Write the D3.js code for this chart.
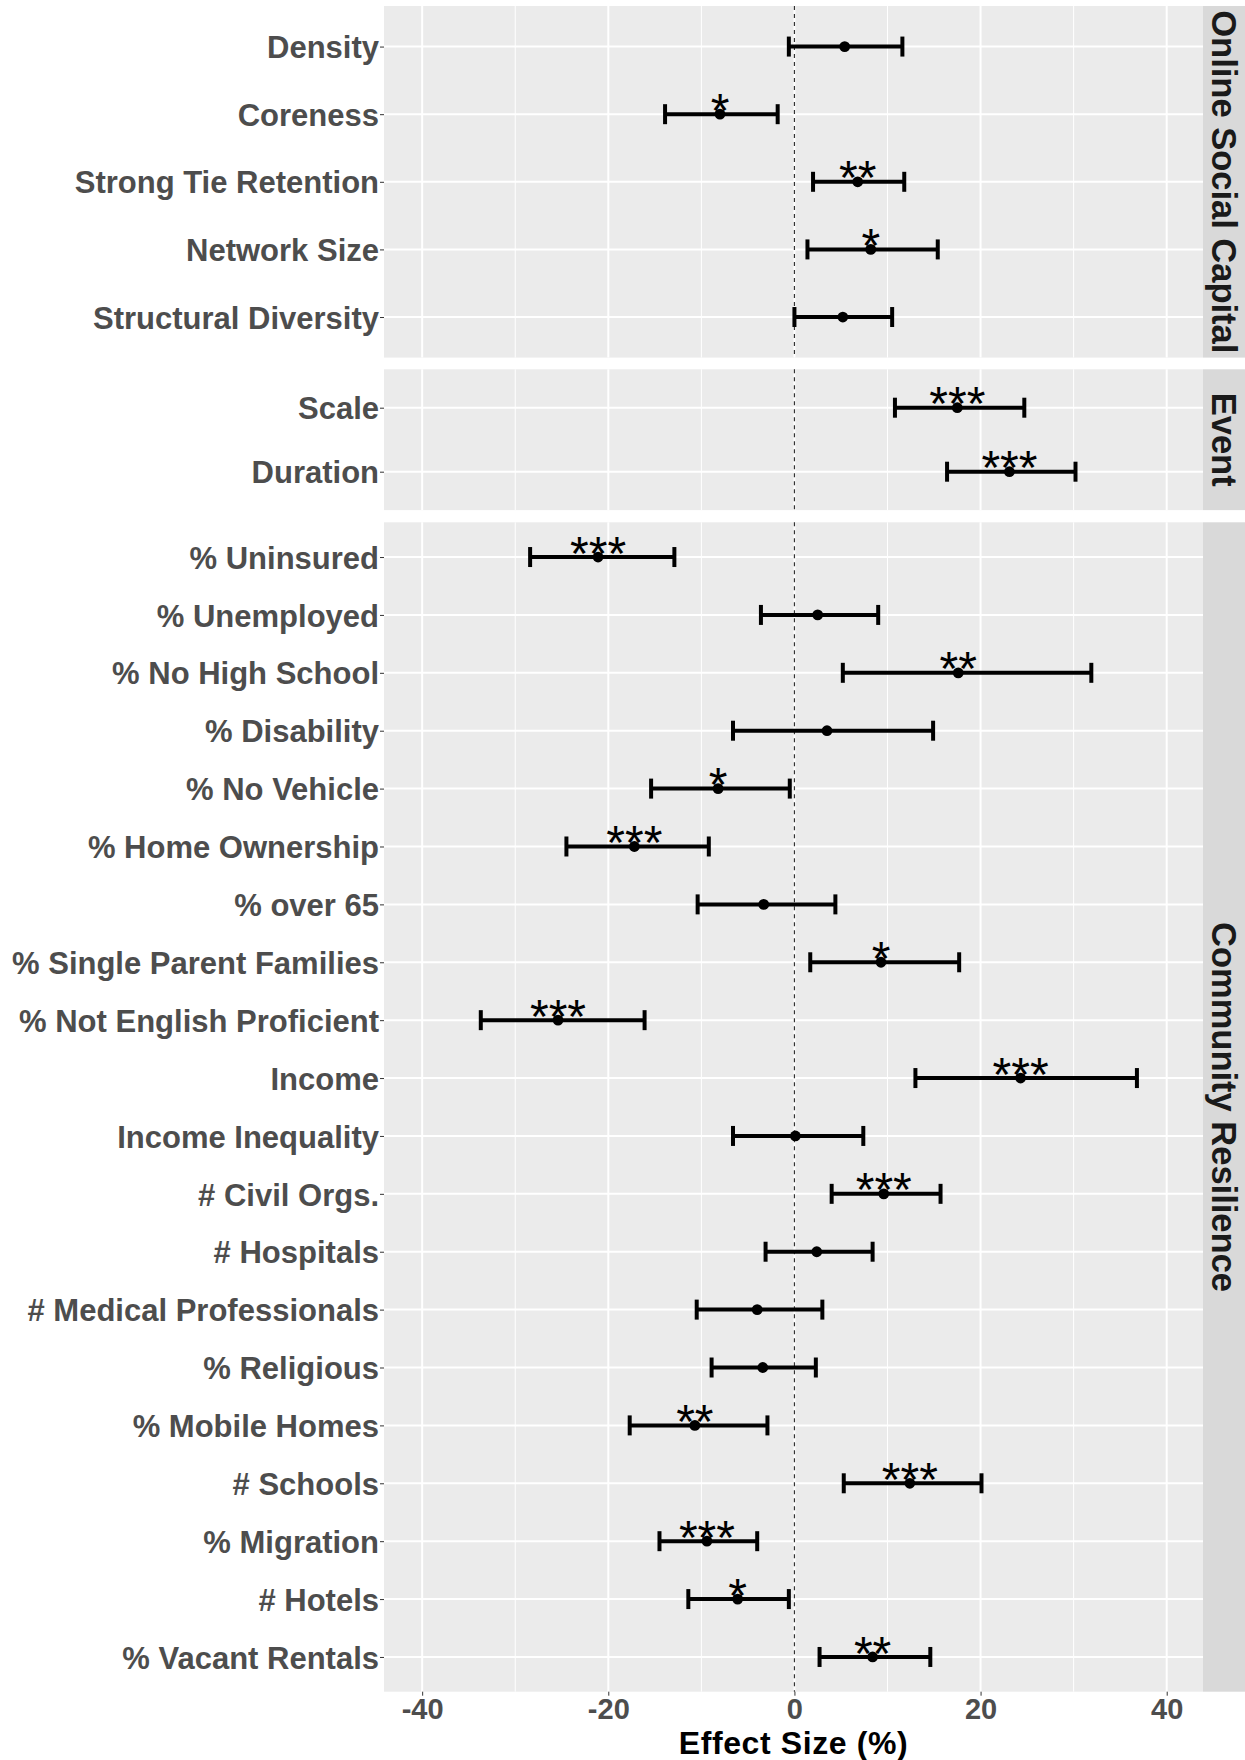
<!DOCTYPE html>
<html>
<head>
<meta charset="utf-8">
<script src="https://cdn.jsdelivr.net/npm/d3@7"></script>
<style>
  html, body { margin: 0; padding: 0; background: #ffffff; }
  svg { display: block; }
  text { font-family: "Liberation Sans", Arial, Helvetica, sans-serif; }
</style>
</head>
<body>
<svg id="chart" width="1245" height="1760"></svg>
<script>
// ---- data ---------------------------------------------------------------
const facetNames = ["Online Social Capital", "Event", "Community Resilience"];

const socialLabels = ["Density", "Coreness", "Strong Tie Retention", "Network Size", "Structural Diversity"];
const socialEst = [5.4, -8.0, 6.8, 8.2, 5.2];
const socialLow = [-0.6, -13.9, 2.0, 1.4, 0.0];
const socialHigh = [11.6, -1.8, 11.8, 15.4, 10.5];
const socialSig = ["", "*", "**", "*", ""];

const eventLabels = ["Scale", "Duration"];
const eventEst = [17.5, 23.1];
const eventLow = [10.8, 16.4];
const eventHigh = [24.7, 30.2];
const eventSig = ["***", "***"];

const communityLabels = ["% Uninsured", "% Unemployed", "% No High School", "% Disability", "% No Vehicle",
  "% Home Ownership", "% over 65", "% Single Parent Families", "% Not English Proficient", "Income",
  "Income Inequality", "# Civil Orgs.", "# Hospitals", "# Medical Professionals", "% Religious",
  "% Mobile Homes", "# Schools", "% Migration", "# Hotels", "% Vacant Rentals"];
const communityEst = [-21.1, 2.5, 17.6, 3.5, -8.2, -17.2, -3.3, 9.3, -25.4, 24.3,
  0.1, 9.6, 2.4, -4.0, -3.4, -10.7, 12.4, -9.4, -6.1, 8.4];
const communityLow = [-28.4, -3.6, 5.2, -6.6, -15.4, -24.5, -10.4, 1.7, -33.7, 13.0,
  -6.6, 4.0, -3.1, -10.5, -8.9, -17.7, 5.3, -14.5, -11.4, 2.7];
const communityHigh = [-12.9, 9.0, 31.9, 14.9, -0.5, -9.2, 4.4, 17.7, -16.1, 36.8,
  7.4, 15.7, 8.4, 3.0, 2.3, -2.9, 20.1, -4.0, -0.6, 14.6];
const communitySig = ["***", "", "**", "", "*", "***", "", "*", "***", "***",
  "", "***", "", "", "", "**", "***", "***", "*", "**"];

const xDomain = [-44.1, 43.9];
const xMajorTicks = [-40, -20, 0, 20, 40];
const xMinorTicks = [-30, -10, 10, 30];
const xTitle = "Effect Size (%)";

// ---- layout -------------------------------------------------------------
const panelLeft = 384, panelRight = 1203, stripRight = 1245;
const panelBounds = [[6, 357.6], [369.3, 510.1], [522.3, 1691.7]];

const facets = [
  { name: facetNames[0], labels: socialLabels, est: socialEst, low: socialLow, high: socialHigh, sig: socialSig },
  { name: facetNames[1], labels: eventLabels, est: eventEst, low: eventLow, high: eventHigh, sig: eventSig },
  { name: facetNames[2], labels: communityLabels, est: communityEst, low: communityLow, high: communityHigh, sig: communitySig }
];

const svg = d3.select("#chart");
const x = d3.scaleLinear().domain(xDomain).range([panelLeft, panelRight]);

const labelFont = 31, starFont = 48, stripFont = 34.5;

facets.forEach((f, i) => {
  const [top, bottom] = panelBounds[i];
  const y = d3.scalePoint().domain(f.labels).range([top, bottom]).padding(0.6);
  const rows = f.labels.map((lab, k) => ({ lab, est: f.est[k], low: f.low[k], high: f.high[k], sig: f.sig[k] }));

  const g = svg.append("g");

  // panel background
  g.append("rect").attr("x", panelLeft).attr("y", top)
    .attr("width", panelRight - panelLeft).attr("height", bottom - top).attr("fill", "#EBEBEB");

  // minor vertical grid
  g.selectAll(".minor").data(xMinorTicks).join("line")
    .attr("x1", d => x(d)).attr("x2", d => x(d)).attr("y1", top).attr("y2", bottom)
    .attr("stroke", "#ffffff").attr("stroke-width", 1);
  // major vertical grid
  g.selectAll(".major").data(xMajorTicks).join("line")
    .attr("x1", d => x(d)).attr("x2", d => x(d)).attr("y1", top).attr("y2", bottom)
    .attr("stroke", "#ffffff").attr("stroke-width", 2);
  // horizontal grid per category
  g.selectAll(".hgrid").data(f.labels).join("line")
    .attr("x1", panelLeft).attr("x2", panelRight).attr("y1", d => y(d)).attr("y2", d => y(d))
    .attr("stroke", "#ffffff").attr("stroke-width", 2);

  // zero reference line
  g.append("line").attr("x1", x(0)).attr("x2", x(0)).attr("y1", top).attr("y2", bottom)
    .attr("stroke", "#333333").attr("stroke-width", 1.2).attr("stroke-dasharray", "4,4");

  // y axis (ticks + labels)
  const yAxis = d3.axisLeft(y).tickSize(4).tickPadding(1);
  const ax = g.append("g").attr("transform", `translate(${panelLeft},0)`).call(yAxis);
  ax.select(".domain").remove();
  ax.selectAll(".tick line").attr("stroke", "#333333").attr("stroke-width", 1);
  ax.selectAll(".tick text")
    .attr("fill", "#4D4D4D").attr("font-size", labelFont).attr("font-weight", "bold")
    .attr("font-family", "'Liberation Sans', Arial, sans-serif")
    .attr("dy", "0.36em");

  // error bars
  g.selectAll(".bar").data(rows).join("line")
    .attr("x1", d => x(d.low)).attr("x2", d => x(d.high))
    .attr("y1", d => y(d.lab)).attr("y2", d => y(d.lab))
    .attr("stroke", "#000").attr("stroke-width", 4);
  const caps = rows.flatMap(d => [{ v: d.low, lab: d.lab }, { v: d.high, lab: d.lab }]);
  g.selectAll(".cap").data(caps).join("line")
    .attr("x1", d => x(d.v)).attr("x2", d => x(d.v))
    .attr("y1", d => y(d.lab) - 10).attr("y2", d => y(d.lab) + 10)
    .attr("stroke", "#000").attr("stroke-width", 4);

  // point estimates
  g.selectAll(".pt").data(rows).join("circle")
    .attr("cx", d => x(d.est)).attr("cy", d => y(d.lab)).attr("r", 5.4).attr("fill", "#000");

  // significance stars
  g.selectAll(".sig").data(rows.filter(d => d.sig)).join("text")
    .attr("x", d => x(d.est)).attr("y", d => y(d.lab) + 0.43 * starFont - 8)
    .attr("text-anchor", "middle").attr("font-size", starFont).attr("fill", "#000")
    .text(d => d.sig);

  // facet strip
  g.append("rect").attr("x", panelRight).attr("y", top)
    .attr("width", stripRight - panelRight).attr("height", bottom - top).attr("fill", "#D9D9D9");
  const cx = (panelRight + stripRight) / 2, cy = (top + bottom) / 2;
  g.append("text")
    .attr("transform", `translate(${cx},${cy}) rotate(90)`)
    .attr("text-anchor", "middle").attr("dy", "0.36em")
    .attr("font-size", stripFont).attr("font-weight", "bold").attr("fill", "#1A1A1A")
    .text(f.name);

  // x axis on bottom panel
  if (i === facets.length - 1) {
    const xAxis = d3.axisBottom(x).tickValues(xMajorTicks).tickSize(4).tickPadding(3).tickFormat(d3.format("d"));
    const xa = g.append("g").attr("transform", `translate(0,${bottom})`).call(xAxis);
    xa.select(".domain").remove();
    xa.selectAll(".tick line").attr("stroke", "#333333");
    xa.selectAll(".tick text").attr("fill", "#4D4D4D").attr("font-size", 29).attr("font-weight", "bold")
      .attr("font-family", "'Liberation Sans', Arial, sans-serif")
      .text(d => String(d).replace("\u2212", "-"));
    svg.append("text")
      .attr("x", (panelLeft + panelRight) / 2).attr("y", 1754)
      .attr("text-anchor", "middle").attr("font-size", 32).attr("font-weight", "bold").attr("fill", "#000")
      .attr("letter-spacing", 0.6)
      .text(xTitle);
  }
});
</script>
</body>
</html>
